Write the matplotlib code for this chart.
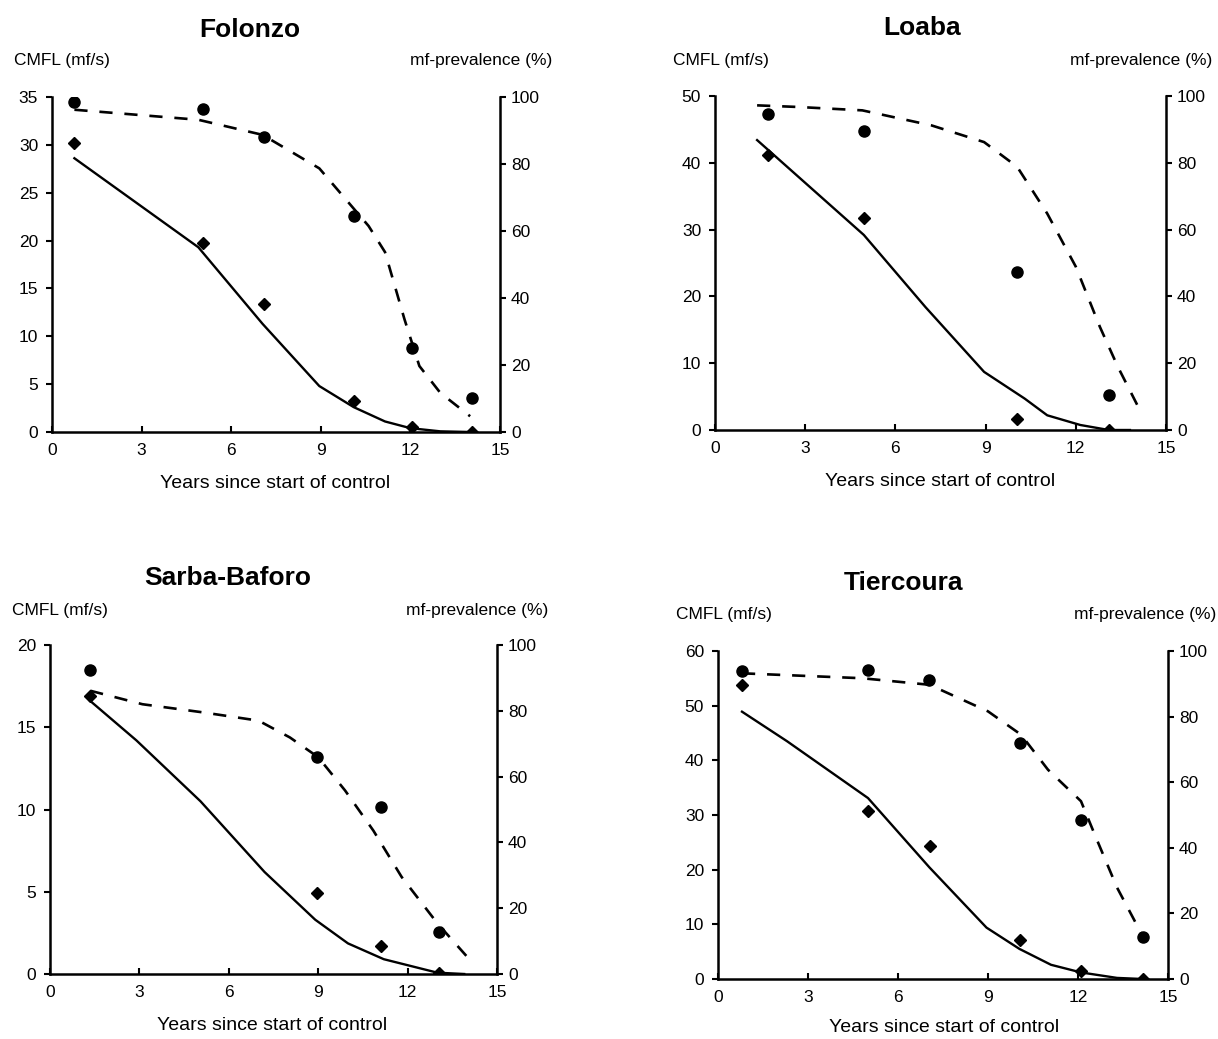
import matplotlib
matplotlib.use("Agg")
import matplotlib.pyplot as plt

plt.rcParams['font.family'] = ['Liberation Sans', 'DejaVu Sans']

W, H = 1218, 1039

# ---------------- data ----------------
titles = ["Folonzo", "Loaba", "Sarba-Baforo", "Tiercoura"]
cmfl_max = [35, 50, 20, 60]
cmfl_step = [5, 10, 5, 10]

# Folonzo
fol_obs_years = [0.75, 5.05, 7.1, 10.1, 12.05, 14.05]
fol_prev_obs = [98.5, 96.5, 88.0, 64.5, 25.0, 10.2]
fol_cmfl_obs = [30.2, 19.7, 13.4, 3.2, 0.5, 0.0]
fol_cmfl_model_years = [0.75, 4.9, 7.05, 8.95, 10.1, 11.15, 12.0, 13.0, 14.0]
fol_cmfl_model = [28.6, 19.3, 11.3, 4.8, 2.6, 1.1, 0.4, 0.07, 0.0]
fol_prev_model_years = [0.75, 4.9, 7.05, 8.95, 10.1, 10.6, 11.15, 11.8, 12.3, 13.0, 14.0]
fol_prev_model = [96.2, 93.2, 88.7, 78.7, 66.7, 61.5, 53.7, 33.7, 19.7, 11.7, 4.7]

# Loaba
loa_obs_years = [1.75, 4.95, 10.05, 13.1]
loa_prev_obs = [94.7, 89.5, 47.4, 10.5]
loa_cmfl_obs = [41.1, 31.8, 1.7, 0.0]
loa_cmfl_model_years = [1.4, 4.95, 7.0, 8.95, 10.3, 11.05, 12.15, 13.1, 13.8]
loa_cmfl_model = [43.4, 29.2, 18.4, 8.7, 4.7, 2.2, 0.75, 0.0, 0.0]
loa_prev_model_years = [1.4, 2.8, 4.9, 7.2, 8.95, 10.05, 11.05, 12.0, 12.8, 13.4, 14.1]
loa_prev_model = [97.2, 96.7, 95.7, 91.2, 86.2, 78.8, 64.8, 48.9, 30.9, 18.9, 6.5]

# Sarba-Baforo
sar_obs_years = [1.35, 8.95, 11.1, 13.05]
sar_prev_obs = [92.3, 65.9, 50.9, 12.8]
sar_cmfl_obs = [16.9, 4.95, 1.7, 0.05]
sar_cmfl_model_years = [1.35, 2.9, 5.05, 7.2, 8.9, 10.0, 11.2, 13.0, 13.9]
sar_cmfl_model = [16.6, 14.2, 10.5, 6.2, 3.3, 1.86, 0.9, 0.08, 0.0]
sar_prev_model_years = [1.35, 3.1, 5.15, 7.0, 8.05, 9.0, 9.9, 10.85, 11.8, 13.0, 14.05]
sar_prev_model = [86.1, 82.0, 79.5, 77.0, 71.9, 65.9, 55.8, 43.6, 29.5, 15.4, 4.7]

# Tiercoura
tie_obs_years = [0.8, 5.0, 7.05, 10.05, 12.1, 14.15]
tie_prev_obs = [93.9, 94.2, 91.2, 71.9, 48.6, 12.9]
tie_cmfl_obs = [53.8, 30.8, 24.3, 7.1, 1.5, 0.0]
tie_cmfl_model_years = [0.8, 2.3, 5.0, 7.05, 8.95, 10.05, 11.1, 12.1, 13.3, 14.15]
tie_cmfl_model = [48.9, 43.5, 33.1, 20.4, 9.4, 5.5, 2.6, 1.2, 0.2, 0.0]
tie_prev_model_years = [0.8, 4.8, 7.05, 9.0, 10.1, 11.0, 12.1, 12.6, 13.3, 14.15]
tie_prev_model = [93.2, 91.7, 89.7, 81.6, 74.5, 63.8, 54.2, 43.1, 27.9, 13.2]

panels = [
    (fol_obs_years, fol_prev_obs, fol_cmfl_obs, fol_cmfl_model_years, fol_cmfl_model, fol_prev_model_years, fol_prev_model),
    (loa_obs_years, loa_prev_obs, loa_cmfl_obs, loa_cmfl_model_years, loa_cmfl_model, loa_prev_model_years, loa_prev_model),
    (sar_obs_years, sar_prev_obs, sar_cmfl_obs, sar_cmfl_model_years, sar_cmfl_model, sar_prev_model_years, sar_prev_model),
    (tie_obs_years, tie_prev_obs, tie_cmfl_obs, tie_cmfl_model_years, tie_cmfl_model, tie_prev_model_years, tie_prev_model),
]

x_ticks = [0, 3, 6, 9, 12, 15]
prev_ticks = [0, 20, 40, 60, 80, 100]

# ---------------- layout (pixels) ----------------
boxes = [(52, 500, 97, 432), (715, 1166, 96, 430), (50, 497, 645, 974), (718, 1168, 651, 979)]
title_pos = [(250, 30), (922, 28), (228, 578), (903, 583)]
left_lab = [(14, 60), (673, 60), (12, 610), (676, 614)]
right_lab = [(552, 60), (1212, 60), (548, 610), (1216, 614)]
xlab_pos = [(275, 483), (940, 481), (272, 1025), (944, 1028)]

fig = plt.figure(figsize=(W / 100, H / 100), dpi=100)

def fx(px):
    return px / W

def fy(py):
    return 1 - py / H

for i, (box, data) in enumerate(zip(boxes, panels)):
    l, r, t, b = box
    ax = fig.add_axes([fx(l), fy(b), (r - l) / W, (b - t) / H])
    ax2 = ax.twinx()
    obs_y, prev_obs, cmfl_obs, cmy, cm, pmy, pm = data

    ax.plot(cmy, cm, color='black', lw=1.7, solid_joinstyle='round')
    ax.plot(obs_y, cmfl_obs, linestyle='none', marker='D', color='black', markersize=6)
    ax2.plot(pmy, pm, color='black', lw=1.9, dashes=(5, 4.5))
    ax2.plot(obs_y, prev_obs, linestyle='none', marker='o', color='black', markersize=8)

    ax.set_xlim(0, 15)
    ax.set_ylim(0, cmfl_max[i])
    ax2.set_ylim(0, 100)
    ax.set_xticks(x_ticks)
    ax.set_yticks(list(range(0, cmfl_max[i] + 1, cmfl_step[i])))
    ax2.set_yticks(prev_ticks)

    for a in (ax, ax2):
        a.spines['top'].set_visible(False)
        for s in a.spines.values():
            s.set_linewidth(1.8)
    ax.spines['right'].set_visible(False)
    ax2.spines['left'].set_visible(False)
    ax2.spines['bottom'].set_visible(False)

    ax.tick_params(axis='x', direction='in', length=4, width=1.5, labelsize=12.5, pad=8)
    ax.tick_params(axis='y', direction='out', length=4, width=1.5, labelsize=12.5, pad=6)
    ax2.tick_params(axis='y', direction='out', length=4, width=1.5, labelsize=12.5, pad=4)

    fig.text(fx(title_pos[i][0]), fy(title_pos[i][1]), titles[i], ha='center', va='center',
             fontsize=19, fontweight='bold')
    fig.text(fx(left_lab[i][0]), fy(left_lab[i][1]), "CMFL (mf/s)", ha='left', va='center', fontsize=12.5)
    fig.text(fx(right_lab[i][0]), fy(right_lab[i][1]), "mf-prevalence (%)", ha='right', va='center', fontsize=12.5)
    fig.text(fx(xlab_pos[i][0]), fy(xlab_pos[i][1]), "Years since start of control", ha='center',
             va='center', fontsize=14)

fig.savefig("out.png", dpi=100, facecolor='white')
